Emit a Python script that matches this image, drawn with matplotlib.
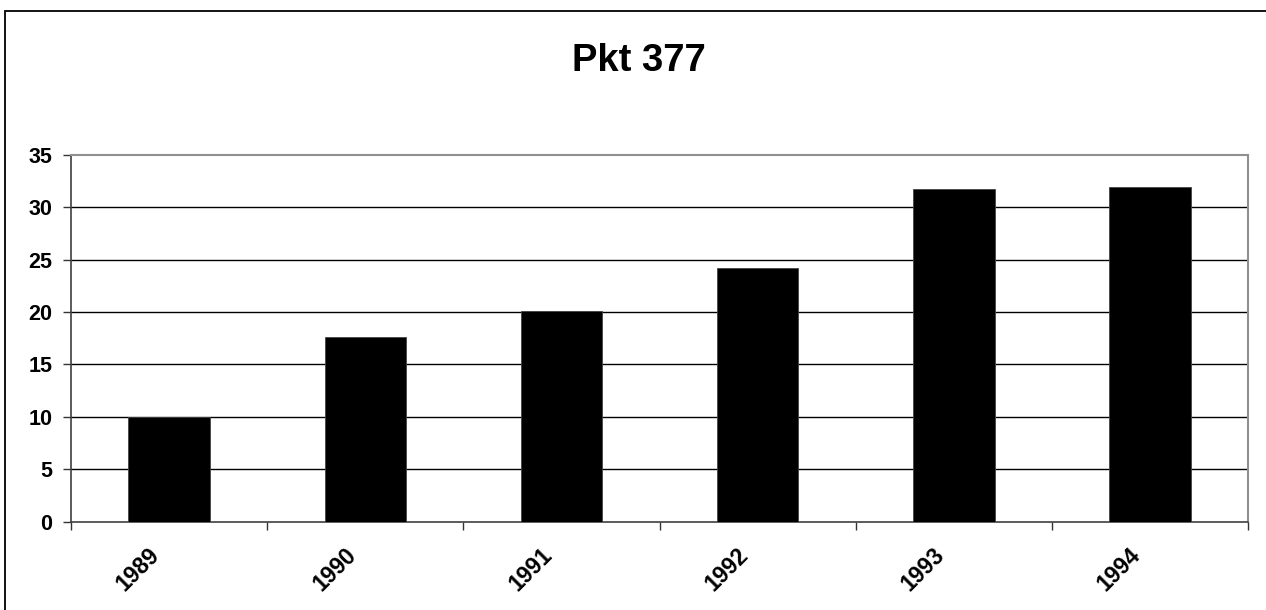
import matplotlib
matplotlib.use("Agg")
import matplotlib.pyplot as plt
import matplotlib.transforms as mtransforms
from matplotlib.patches import Rectangle
import numpy as np

title = "Pkt 377"
years = ["1989", "1990", "1991", "1992", "1993", "1994"]
values = [10.0, 17.6, 20.1, 24.2, 31.75, 31.9]
y_ticks = [0, 5, 10, 15, 20, 25, 30, 35]

plt.rcParams["font.family"] = ["Liberation Sans", "DejaVu Sans"]
plt.rcParams["font.weight"] = "bold"

W, H = 1266, 610
fig = plt.figure(figsize=(W / 100, H / 100), dpi=100)

# outer chart frame (left and top edges fall inside the canvas)
fig.patches.append(Rectangle((5 / W, -0.1), 1.2, (H - 11) / H + 0.1,
                             transform=fig.transFigure, fill=False,
                             edgecolor="black", linewidth=1.3))

left, right, top, bottom = 71, 1248.3, 154.7, 521.7
ax = fig.add_axes([left / W, (H - bottom) / H, (right - left) / W, (bottom - top) / H])

x = np.arange(len(years))
ax.bar(x, values, width=0.415, color="black", edgecolor="#444444",
       linewidth=0.6, zorder=3)

ax.set_xlim(-0.5, len(years) - 0.5)
ax.set_ylim(0, 35)
ax.set_yticks(y_ticks)
ax.set_yticklabels([str(v) for v in y_ticks])
for v in y_ticks[1:-1]:
    ax.axhline(v, color="black", linewidth=1.0, zorder=1)

ax.set_xticks(x)
ax.set_xticklabels(years)
ax.set_xticks(np.arange(len(years) + 1) - 0.5, minor=True)

ax.tick_params(axis="y", length=5.5, width=1, color="#333333", pad=8,
               labelsize=15.5)
ax.tick_params(axis="x", which="major", length=0, pad=21.5, labelsize=16.5)
ax.tick_params(axis="x", which="minor", length=5.5, width=1, color="#333333")

offset = mtransforms.ScaledTranslation(-0.13, 0, fig.dpi_scale_trans)
for lab in ax.get_xticklabels():
    lab.set_rotation(45)
    lab.set_ha("right")
    lab.set_va("center")
    lab.set_rotation_mode("anchor")
    lab.set_fontweight("bold")
    lab.set_transform(lab.get_transform() + offset)
for lab in ax.get_yticklabels():
    lab.set_fontweight("bold")

for side in ("left", "bottom"):
    ax.spines[side].set_color("#404040")
    ax.spines[side].set_linewidth(1.2)
for side in ("top", "right"):
    ax.spines[side].set_color("#909090")
    ax.spines[side].set_linewidth(1.5)

fig.text(638.7 / W, (H - 71) / H, title, ha="center", va="baseline",
         fontsize=27.5, fontweight="bold")

fig.savefig("out.png", dpi=100)
